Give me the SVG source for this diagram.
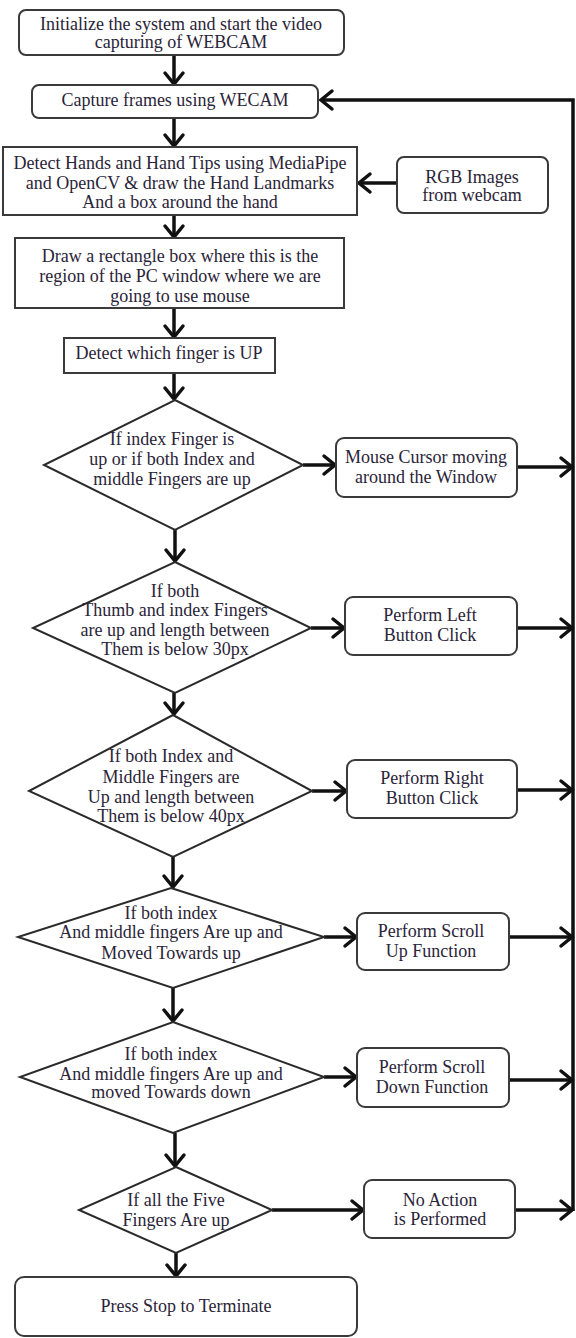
<svg xmlns="http://www.w3.org/2000/svg" width="576" height="1338" viewBox="0 0 576 1338">
<defs>
<marker id="ah" markerUnits="userSpaceOnUse" markerWidth="20" markerHeight="24" refX="14" refY="11" orient="auto" overflow="visible">
<path d="M3,2 L14,11 L3,20" fill="none" stroke="#111" stroke-width="3.5" stroke-linecap="round" stroke-linejoin="miter"/>
</marker>
<style>
.box{fill:#fff;stroke:#3a3a3a;stroke-width:2}
.dia{fill:#fff;stroke:#2a2a2a;stroke-width:2}
.c{fill:none;stroke:#111;stroke-width:3.5}
.a{marker-end:url(#ah)}
.t text{font-size:18px;fill:#2a2438;text-anchor:middle}
</style>
</defs>
<rect width="576" height="1338" fill="#fff"/>
<g id="connectors">
<line class="c a" x1="174" y1="55" x2="174" y2="84"/>
<line class="c a" x1="174" y1="118" x2="174" y2="146"/>
<line class="c a" x1="174" y1="215" x2="174" y2="237"/>
<line class="c a" x1="174" y1="308" x2="174" y2="337"/>
<line class="c a" x1="174" y1="373" x2="174" y2="399"/>
<line class="c a" x1="175" y1="530" x2="175" y2="561"/>
<line class="c a" x1="174" y1="693" x2="174" y2="714"/>
<line class="c a" x1="173" y1="857" x2="173" y2="887"/>
<line class="c a" x1="173" y1="988" x2="173" y2="1021"/>
<line class="c a" x1="175" y1="1133" x2="175" y2="1166"/>
<line class="c a" x1="176" y1="1253" x2="176" y2="1276"/>
<line class="c a" x1="397" y1="183" x2="359" y2="183"/>
<line class="c a" x1="303" y1="465" x2="335" y2="465"/>
<line class="c a" x1="517" y1="467" x2="572" y2="467"/>
<line class="c a" x1="311" y1="628" x2="344" y2="628"/>
<line class="c a" x1="517" y1="628" x2="572" y2="628"/>
<line class="c a" x1="312" y1="791" x2="346" y2="791"/>
<line class="c a" x1="517" y1="790" x2="572" y2="790"/>
<line class="c a" x1="324" y1="937" x2="356" y2="937"/>
<line class="c a" x1="509" y1="937" x2="572" y2="937"/>
<line class="c a" x1="324" y1="1077" x2="356" y2="1077"/>
<line class="c a" x1="509" y1="1080" x2="572" y2="1080"/>
<line class="c a" x1="272" y1="1210" x2="363" y2="1210"/>
<line class="c a" x1="515" y1="1210" x2="572" y2="1210"/>
<path class="c a" d="M573,1211 V100 H321"/>
</g>
<g class="t" font-family="'Liberation Serif', 'DejaVu Serif', 'Times New Roman', serif">
<g id="n1"><rect class="box" x="19" y="10" width="325" height="45" rx="7"/>
<text x="181" y="30">Initialize the system and start the video</text>
<text x="181" y="48">capturing of WEBCAM</text></g>
<g id="n2"><rect class="box" x="32" y="85" width="286" height="33" rx="7"/>
<text x="175" y="106">Capture frames using WECAM</text></g>
<g id="n3"><rect class="box" x="3" y="147" width="354" height="68"/>
<text x="180" y="169">Detect Hands and Hand Tips using MediaPipe</text>
<text x="180" y="189">and OpenCV &amp; draw the Hand Landmarks</text>
<text x="180" y="208">And a box around the hand</text></g>
<g id="n4"><rect class="box" x="397" y="157" width="151" height="56" rx="7"/>
<text x="472" y="183">RGB Images</text>
<text x="472" y="201">from webcam</text></g>
<g id="n5"><rect class="box" x="15" y="238" width="329" height="70"/>
<text x="180" y="262">Draw a rectangle box where this is the</text>
<text x="180" y="282">region of the PC window where we are</text>
<text x="180" y="302">going to use mouse</text></g>
<g id="n6"><rect class="box" x="64" y="338" width="211" height="35"/>
<text x="169" y="359">Detect which finger is UP</text></g>
<g id="d1"><polygon class="dia" points="175,400 303,465 175,530 44,465"/>
<text x="172" y="445">If index Finger is</text>
<text x="172" y="465">up or if both Index and</text>
<text x="172" y="485">middle Fingers are up</text></g>
<g id="b1"><rect class="box" x="336" y="438" width="181" height="59" rx="8"/>
<text x="426" y="463">Mouse Cursor moving</text>
<text x="426" y="483">around the Window</text></g>
<g id="d2"><polygon class="dia" points="175,562 311,628 175,693 33,628"/>
<text x="175" y="597">If both</text>
<text x="175" y="616">Thumb and index Fingers</text>
<text x="175" y="636">are up and length between</text>
<text x="175" y="655">Them is below 30px</text></g>
<g id="b2"><rect class="box" x="345" y="597" width="172" height="58" rx="8"/>
<text x="430" y="621">Perform Left</text>
<text x="430" y="641">Button Click</text></g>
<g id="d3"><polygon class="dia" points="173,715 312,791 173,857 29,791"/>
<text x="171" y="762">If both Index and</text>
<text x="171" y="783">Middle Fingers are</text>
<text x="171" y="803">Up and length between</text>
<text x="171" y="822">Them is below 40px</text></g>
<g id="b3"><rect class="box" x="347" y="760" width="170" height="58" rx="8"/>
<text x="432" y="784">Perform Right</text>
<text x="432" y="804">Button Click</text></g>
<g id="d4"><polygon class="dia" points="171,888 324,937 173,988 18,937"/>
<text x="171" y="919">If both index</text>
<text x="171" y="938">And middle fingers Are up and</text>
<text x="171" y="959">Moved Towards up</text></g>
<g id="b4"><rect class="box" x="357" y="913" width="152" height="57" rx="8"/>
<text x="431" y="937">Perform Scroll</text>
<text x="431" y="957">Up Function</text></g>
<g id="d5"><polygon class="dia" points="173,1022 324,1077 173,1133 20,1077"/>
<text x="171" y="1060">If both index</text>
<text x="171" y="1080">And middle fingers Are up and</text>
<text x="171" y="1098">moved Towards down</text></g>
<g id="b5"><rect class="box" x="357" y="1048" width="152" height="59" rx="8"/>
<text x="432" y="1073">Perform Scroll</text>
<text x="432" y="1093">Down Function</text></g>
<g id="d6"><polygon class="dia" points="176,1167 272,1210 176,1253 79,1210"/>
<text x="176" y="1206">If all the Five</text>
<text x="176" y="1226">Fingers Are up</text></g>
<g id="b6"><rect class="box" x="364" y="1180" width="151" height="58" rx="8"/>
<text x="440" y="1206">No Action</text>
<text x="440" y="1225">is Performed</text></g>
<g id="n7"><rect class="box" x="15" y="1277" width="342" height="59" rx="9"/>
<text x="186" y="1312">Press Stop to Terminate</text></g>
</g>
</svg>
